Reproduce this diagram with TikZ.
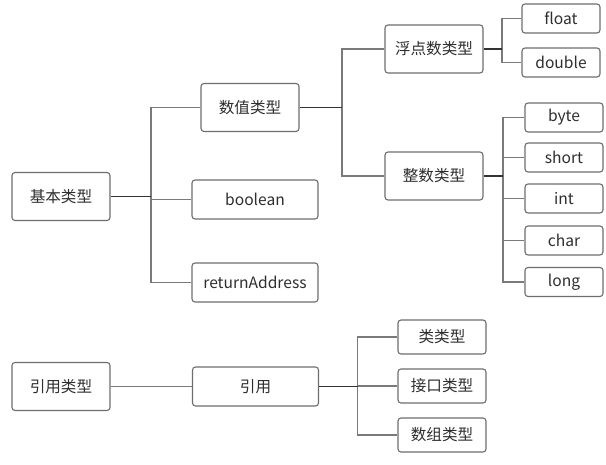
\documentclass[tikz,border=0pt]{standalone}
\usepackage{fontspec}
\setmainfont{Noto Sans CJK SC}
\begin{document}
\begin{tikzpicture}[x=1pt,y=-1pt,
  box/.style={draw=boxgray, line width=1.1pt, rounded corners=3pt, fill=white,
    text=txtgray, inner sep=0pt, font=\fontsize{15.6pt}{18pt}\selectfont},
  big/.style={box, minimum width=98pt, minimum height=48pt},
  mid/.style={box, minimum width=126pt, minimum height=39pt},
  leaf/.style={box, minimum width=78pt, minimum height=29pt},
  ref/.style={box, minimum width=88pt, minimum height=34pt},
  stem/.style={draw=black!80, line width=1.4pt},
  branch/.style={draw=linegray, line width=1.1pt}]
\definecolor{boxgray}{HTML}{6E6E6E}
\definecolor{linegray}{HTML}{7A7A7A}
\definecolor{txtgray}{HTML}{2E2E2E}
\useasboundingbox (0,0) rectangle (606,464);
\fill[white] (0,0) rectangle (606,464);

% junction x positions
\coordinate (j1) at (151,0);
\coordinate (j2) at (342,0);
\coordinate (j3) at (502,0);
\coordinate (j4) at (503,0);
\coordinate (j5) at (357.5,0);

% nodes
\node[big] (jb) at (61,196.5) {基本类型};
\node[big] (sz) at (250,107.5) {数值类型};
\node[mid] (bo) at (255,199.5) {boolean};
\node[mid] (ra) at (255,282.5) {returnAddress};
\node[big] (fd) at (434,49) {浮点数类型};
\node[big] (zs) at (434,176) {整数类型};
\node[leaf] (fl) at (561,18.5) {float};
\node[leaf] (db) at (561,62.5) {double};
\node[leaf] (by) at (564,117.5) {byte};
\node[leaf] (sh) at (564,157.5) {short};
\node[leaf] (in) at (564,198.5) {int};
\node[leaf] (ch) at (564,240.5) {char};
\node[leaf] (lo) at (564,282) {long};
\node[big] (yl) at (61,386.5) {引用类型};
\node[mid] (yy) at (255.5,386.5) {引用};
\node[ref] (lei) at (442,337) {类类型};
\node[ref] (jk) at (442,386) {接口类型};
\node[ref] (sj) at (442,435) {数组类型};

% connectors
\path[branch] (jb.east -| j1) |- (sz.west);
\path[branch] (jb.east -| j1) |- (bo.west);
\path[branch] (jb.east -| j1) |- (ra.west);
\path[stem] (jb.east) -- (jb.east -| j1);

\path[branch] (sz.east -| j2) |- (fd.west);
\path[branch] (sz.east -| j2) |- (zs.west);
\path[stem] (sz.east) -- (sz.east -| j2);

\path[branch] (fd.east -| j3) |- (fl.west);
\path[branch] (fd.east -| j3) |- (db.west);
\path[stem] (fd.east) -- (fd.east -| j3);

\path[branch] (zs.east -| j4) |- (by.west);
\path[branch] (zs.east -| j4) |- (sh.west);
\path[branch] (zs.east -| j4) |- (in.west);
\path[branch] (zs.east -| j4) |- (ch.west);
\path[branch] (zs.east -| j4) |- (lo.west);
\path[stem] (zs.east) -- (zs.east -| j4);

\path[branch] (yl.east) -- (yy.west);

\path[branch] (yy.east -| j5) |- (lei.west);
\path[branch] (yy.east -| j5) |- (jk.west);
\path[branch] (yy.east -| j5) |- (sj.west);
\path[stem] (yy.east) -- (yy.east -| j5);
\end{tikzpicture}
\end{document}
